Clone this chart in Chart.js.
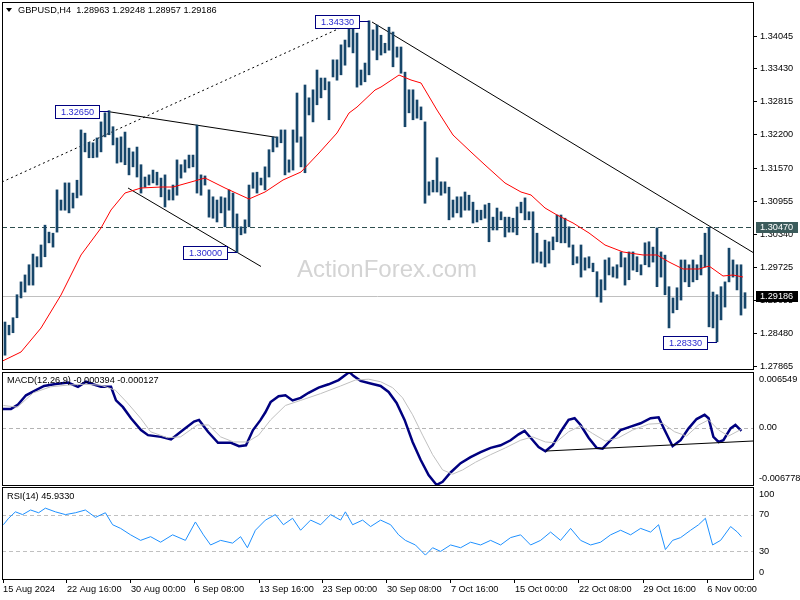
<!DOCTYPE html>
<html><head><meta charset="utf-8">
<script src="https://cdn.jsdelivr.net/npm/chart.js@4.4.1/dist/chart.umd.min.js"></script>
<style>
html,body{margin:0;padding:0;background:#fff;width:800px;height:600px;overflow:hidden}
.p{position:absolute;left:0;width:800px}
</style></head><body>
<div class="p" style="top:0;height:371px"><canvas id="cMain"></canvas></div>
<div class="p" style="top:370px;height:117px"><canvas id="cMacd"></canvas></div>
<div class="p" style="top:486px;height:114px"><canvas id="cRsi"></canvas></div>
<script>
// ---------------- DATA ----------------
const titleText = "GBPUSD,H4  1.28963 1.29248 1.28957 1.29186";
const macdTitle = "MACD(12,26,9) -0.000394 -0.000127";
const rsiTitle = "RSI(14) 45.9330";
const watermark = "ActionForex.com";

// H4 bars (pairs of bars merged into one range), index = bar slot
const barHigh = [1.2870,1.2864,1.2878,1.2921,1.2945,1.2958,1.2977,1.2997,1.2992,1.3014,
1.3051,1.3038,1.3036,1.3117,1.3098,1.3130,1.3130,1.3111,1.3135,1.3229,
1.3223,1.3206,1.3205,1.3214,1.3244,1.3261,1.3265,1.3235,1.3214,1.3216,
1.3225,1.3195,1.3188,1.3197,1.3164,1.3141,1.3145,1.3154,1.3150,1.3139,
1.3145,1.3117,1.3126,1.3173,1.3164,1.3173,1.3182,1.3182,1.3238,1.3145,
1.3143,1.3117,1.3104,1.3098,1.3104,1.3102,1.3117,1.3111,1.3072,1.3048,
1.3061,1.3126,1.3149,1.3150,1.3139,1.3160,1.3192,1.3216,1.3216,1.3229,
1.3229,1.3173,1.3229,1.3298,1.3216,1.3313,1.3289,1.3304,1.3341,1.3326,
1.3326,1.3319,1.3360,1.3360,1.3388,1.3397,1.3425,1.3429,1.3410,1.3341,
1.3354,1.3433,1.3416,1.3425,1.3406,1.3391,1.3421,1.3412,1.3384,1.3384,
1.3337,1.3304,1.3304,1.3285,1.3272,1.3244,1.3132,1.3135,1.3177,1.3132,
1.3132,1.3122,1.3098,1.3104,1.3104,1.3113,1.3107,1.3094,1.3079,1.3079,
1.3089,1.3092,1.3066,1.3083,1.3076,1.3066,1.3066,1.3064,1.3085,1.3094,
1.3102,1.3076,1.3076,1.3036,1.3001,1.3023,1.3020,1.3029,1.3070,1.3070,
1.3064,1.3048,1.3014,1.2992,1.3014,1.2990,1.2992,1.2980,1.2964,1.2949,
1.2986,1.2990,1.2973,1.2977,1.3001,1.2990,1.3001,1.3001,1.2992,1.2977,
1.3018,1.3020,1.3010,1.3046,1.3001,1.2995,1.2936,1.2915,1.2934,1.2986,
1.2986,1.2977,1.2986,1.2977,1.2995,1.3036,1.3047,1.2926,1.2921,1.2936,
1.2945,1.3008,1.2986,1.2977,1.2977,1.29248];
const barLow = [1.2808,1.2846,1.2850,1.2878,1.2915,1.2926,1.2939,1.2939,1.2973,1.2973,
1.2992,1.3018,1.3010,1.3038,1.3079,1.3079,1.3074,1.3083,1.3102,1.3107,
1.3188,1.3177,1.3177,1.3178,1.3188,1.3216,1.3220,1.3201,1.3167,1.3169,
1.3164,1.3145,1.3160,1.3141,1.3111,1.3122,1.3126,1.3130,1.3126,1.3104,
1.3085,1.3098,1.3098,1.3107,1.3139,1.3150,1.3158,1.3160,1.3111,1.3107,
1.3126,1.3066,1.3064,1.3057,1.3074,1.3048,1.3079,1.3046,1.3000,1.3033,
1.3036,1.3048,1.3120,1.3111,1.3126,1.3117,1.3141,1.3188,1.3197,1.3205,
1.3145,1.3150,1.3154,1.3206,1.3160,1.3149,1.3257,1.3244,1.3276,1.3289,
1.3304,1.3248,1.3328,1.3322,1.3332,1.3350,1.3384,1.3373,1.3309,1.3313,
1.3319,1.3332,1.3378,1.3360,1.3369,1.3373,1.3378,1.3347,1.3365,1.3335,
1.3235,1.3261,1.3248,1.3251,1.3248,1.3092,1.3107,1.3113,1.3113,1.3107,
1.3111,1.3061,1.3066,1.3074,1.3066,1.3079,1.3079,1.3055,1.3057,1.3061,
1.3064,1.3020,1.3042,1.3042,1.3061,1.3029,1.3038,1.3038,1.3033,1.3074,
1.3061,1.3061,1.2980,1.2982,1.2980,1.2973,1.2980,1.3005,1.3020,1.3018,
1.3018,1.3010,1.2977,1.2980,1.2954,1.2967,1.2971,1.2964,1.2917,1.2907,
1.2930,1.2958,1.2954,1.2952,1.2973,1.2939,1.2949,1.2967,1.2964,1.2958,
1.2977,1.2973,1.2982,1.2936,1.2954,1.2921,1.2859,1.2887,1.2893,1.2911,
1.2945,1.2936,1.2945,1.2949,1.2958,1.2973,1.2861,1.2859,1.2833,1.2874,
1.2898,1.2945,1.2954,1.2930,1.2883,1.28957];

// red moving average
const maSlot = [-0.6,4,9,14,19,24,26.5,30,34,39,42,46.5,50,55,61,65,69.5,74,78.5,83,86,88,92.5,94,98.5,101.5,104,108,112,116.5,120,125,129,131.5,135,138,142,146,150,154.5,159.5,163,166,169.5,173.5,176,179.5,182,184.5];
const maValue = [1.27972,1.28140,1.28588,1.29205,1.29953,1.30457,1.30794,1.31111,1.31205,1.31223,1.31223,1.31317,1.31392,1.31205,1.30999,1.31130,1.31354,1.31504,1.31859,1.32233,1.32606,1.32718,1.33036,1.33092,1.33316,1.33223,1.33167,1.32662,1.32195,1.31877,1.31635,1.31298,1.31130,1.31074,1.30831,1.30700,1.30551,1.30364,1.30139,1.30009,1.29953,1.29953,1.29822,1.29691,1.29691,1.29747,1.29560,1.29579,1.29541];

// trendlines (slot, price)
const riseDotted = [[-0.75,1.31317],[86,1.34270]];
const fallLine = [[91.75,1.34307],[187.0,1.30000]];
const triUpper = [[26,1.32630],[68,1.32150]];
const triLower = [[30.75,1.31205],[64,1.29738]];
const resistanceLevel = 1.30470;
const lastPrice = 1.29186;
const markSlot = [26,91,58,178];
const markPrice = [1.32650,1.34330,1.30000,1.28330];
const priceTicks = [1.34045,1.33430,1.32815,1.32200,1.31570,1.30955,1.30340,1.29725,1.29095,1.28480,1.27865];
const dateTickSlot = [-0.475,15.475,31.475,47.375,63.575,79.375,95.475,111.475,127.475,143.475,159.575,175.575];
const dateTickLabel = ["15 Aug 2024","22 Aug 16:00","30 Aug 00:00","6 Sep 08:00","13 Sep 16:00","23 Sep 00:00","30 Sep 08:00","7 Oct 16:00","15 Oct 00:00","22 Oct 08:00","29 Oct 16:00","6 Nov 00:00"];

// MACD
const macdMax = 0.006549, macdMin = -0.006778;
const macdSlot = [-0.6,1.5,3.25,5.25,7.25,9.75,12.25,15.75,18.25,20.25,22,24,26.5,27.75,29.5,31.5,34,35.75,39,41.5,44.5,47.25,48.5,50.75,53.25,56.5,58.5,60.25,62,
63.9,65.1,66.4,68.4,70.1,71.9,73.9,75.9,78.4,80.9,83.4,85.1,86.1,87.1,88.9,91.4,93.9,95.9,97.9,99.9,
101.9,103.9,105.9,107.9,109.4,111.4,113.9,116.4,118.9,121.4,123.9,126.4,128.4,129.9,131.4,133.4,135.1,136.9,138.9,140.9,
142.4,143.9,145.9,147.9,149.4,151.4,153.9,156.4,158.9,161.4,163.4,164.9,166.9,168.9,170.9,172.9,174.9,175.9,177.1,178.4,
179.6,181.4,182.6,184.1];
const macdMain = [0.0022,0.0022,0.0027,0.0038,0.0043,0.0049,0.0051,0.0053,0.0048,0.0054,0.0051,0.0048,0.0048,0.0032,0.0024,0.0011,-0.0003,-0.0009,-0.0011,-0.0014,-0.0003,0.0007,0.0009,-0.0005,-0.0018,-0.0018,-0.0022,-0.0021,-0.0003,
0.0009,0.0018,0.0030,0.0037,0.0038,0.0032,0.0035,0.0041,0.0047,0.0051,0.0056,0.0062,0.00654,0.0061,0.0055,0.0052,0.0049,0.0042,0.0029,0.0009,
-0.0017,-0.0038,-0.0056,-0.00677,-0.0064,-0.0053,-0.0042,-0.0035,-0.0029,-0.0024,-0.0021,-0.0015,-0.0008,-0.0004,-0.0012,-0.0023,-0.0028,-0.0021,-0.0005,0.0009,
0.0011,0.0003,-0.0012,-0.0024,-0.0025,-0.0015,-0.0003,0.0001,0.0005,0.0011,0.0012,-0.0003,-0.0022,-0.0015,-0.0001,0.0010,0.0015,0.0011,-0.0011,-0.0017,
-0.0015,-0.0001,0.0003,-0.0004];
const sigSlot = [-0.4,3.1,7.1,11.4,15.6,19.6,23.9,27.6,30.6,33.9,36.4,40.6,43.9,48.1,50.9,53.9,57.1,60.6,63.4,66.4,70.1,73.9,78.9,83.9,87.6,90.9,93.9,96.9,99.4,101.9,104.4,106.9,109.4,111.9,114.4,117.6,121.4,125.1,128.9,131.9,135.1,137.6,140.9,143.9,146.9,150.1,153.4,156.9,160.9,164.4,167.4,170.4,173.4,175.9,178.4,180.9,184.1];
const macdSignal = [0.0026,0.0024,0.0041,0.0048,0.0050,0.0051,0.0050,0.0044,0.0029,0.0011,-0.0005,-0.0012,-0.0011,0.0003,0.0003,-0.0011,-0.0017,-0.0017,-0.0009,0.0009,0.0026,0.0032,0.0040,0.0049,0.0056,0.0057,0.0054,0.0047,0.0035,0.0015,-0.0009,-0.0032,-0.0050,-0.0055,-0.0050,-0.0041,-0.0032,-0.0024,-0.0015,-0.0011,-0.0017,-0.0018,-0.0005,0.0002,-0.0007,-0.0016,-0.0012,-0.0003,0.0004,0.0005,-0.0005,-0.0010,0.0003,0.0009,-0.0003,-0.0010,-0.0002];
const macdTrend = [[135.25,-0.00277],[187.0,-0.00159]];

// RSI
const rsiSlot = [-0.4,0.9,2.6,4.4,6.4,8.4,10.1,12.6,15.1,17.6,20.1,22.6,25.1,26.9,28.9,31.4,33.9,36.4,38.9,41.9,45.1,47.6,49.6,51.4,53.9,56.9,58.9,60.6,62.6,65.1,67.6,69.6,71.9,73.9,76.4,78.9,81.4,83.9,85.1,86.9,89.4,91.4,93.9,96.4,98.4,100.1,102.6,105.1,106.9,108.9,111.4,113.9,116.4,118.9,121.4,123.9,126.4,128.9,131.4,133.9,136.4,138.9,141.4,143.9,146.4,148.9,151.4,153.9,156.4,158.9,161.4,163.4,165.1,166.9,168.9,171.4,173.4,175.1,176.9,178.9,181.4,183.1,184.1];
const rsiValue = [59,66,73,70,75,72,77,73,70,72,75,67,72,59,55,48,42,46,40,48,42,62,48,37,42,39,46,34,53,64,70,59,66,53,64,59,70,64,73,59,64,57,64,59,48,42,37,26,34,30,37,34,40,37,42,37,45,48,37,42,51,42,55,42,37,40,48,53,48,55,51,59,32,42,45,53,59,66,37,42,57,51,46];
const rsiLevels = [70,30];

// ---------------- DRAWING ----------------
const FONT = "Liberation Sans, Arial, sans-serif";
const XMIN = -0.75, XMAX = 187.0;
const pts = (xs, ys) => xs.map((x, i) => ({x: x, y: ys[i]}));
const seg = arr => arr.map(p => ({x: p[0], y: p[1]}));
const noPad = s => { s.paddingTop = 0; s.paddingBottom = 0; s.paddingLeft = 0; s.paddingRight = 0; };

const framePlugin = {
  id: 'frame',
  afterDraw(chart) {
    const {ctx, chartArea: a} = chart;
    ctx.save();
    ctx.strokeStyle = '#000'; ctx.lineWidth = 1;
    ctx.strokeRect(a.left + 0.5, a.top + 0.5, a.right - a.left, a.bottom - a.top);
    ctx.restore();
  }
};
const levelPlugin = {
  id: 'levels',
  beforeDatasetsDraw(chart, args, opts) {
    const {ctx, chartArea: a, scales: {y}} = chart;
    ctx.save();
    (opts.lines || []).forEach(l => {
      const py = Math.round(y.getPixelForValue(l.value)) + 0.5;
      ctx.strokeStyle = l.color; ctx.lineWidth = 1; ctx.setLineDash(l.dash || []);
      ctx.beginPath(); ctx.moveTo(a.left, py); ctx.lineTo(a.right, py); ctx.stroke();
    });
    if (opts.watermark) {
      ctx.setLineDash([]);
      ctx.fillStyle = '#d4d4d4'; ctx.font = '24px ' + FONT;
      ctx.textAlign = 'center'; ctx.textBaseline = 'middle';
      ctx.fillText(opts.watermark, 387, 270);
    }
    ctx.restore();
  }
};
const textPlugin = {
  id: 'texts',
  afterDraw(chart, args, opts) {
    const {ctx, scales: {x, y}} = chart;
    ctx.save();
    ctx.font = '9.2px ' + FONT; ctx.textBaseline = 'middle';
    if (opts.title) {
      ctx.fillStyle = '#000'; ctx.textAlign = 'left';
      if (opts.triangle) {
        ctx.beginPath(); ctx.moveTo(6, 8); ctx.lineTo(12, 8); ctx.lineTo(9, 12); ctx.closePath(); ctx.fill();
      }
      ctx.fillText(opts.title, opts.titleX, opts.titleY);
    }
    (opts.marks || []).forEach(m => {
      const bx = Math.round(x.getPixelForValue(m.slot));
      const py = Math.round(y.getPixelForValue(m.price));
      const w = 44, h = 13, right = bx - 10, left = right - w;
      ctx.fillStyle = '#fff'; ctx.fillRect(left, py - 6, w, h);
      ctx.strokeStyle = '#000080'; ctx.lineWidth = 1;
      ctx.strokeRect(left + 0.5, py - 6 + 0.5, w, h);
      ctx.beginPath(); ctx.moveTo(right + 0.5, py + 0.5); ctx.lineTo(bx, py + 0.5); ctx.stroke();
      ctx.fillStyle = '#2a2ad0'; ctx.textAlign = 'center';
      ctx.fillText(m.price.toFixed(5), left + w / 2 + 0.5, py + 1);
    });
    (opts.tags || []).forEach(t => {
      const py = Math.round(y.getPixelForValue(t.value));
      ctx.fillStyle = t.bg; ctx.fillRect(756, py - 5, 42, 11);
      ctx.fillStyle = '#fff'; ctx.textAlign = 'left';
      ctx.fillText(t.value.toFixed(5), 760, py + 0.5);
    });
    (opts.axisLabels || []).forEach(l => {
      const py = y.getPixelForValue(l.value) + l.off;
      ctx.fillStyle = '#000'; ctx.textAlign = 'left';
      ctx.fillText(l.text, 759, py);
    });
    ctx.restore();
  }
};

const xHidden = {type: 'linear', min: XMIN, max: XMAX, offset: false, display: false};
const yRight = (min, max) => ({
  type: 'linear', position: 'right', min: min, max: max, beginAtZero: false,
  afterFit(s) { s.width = 47; noPad(s); },
  border: {display: true, color: '#000'},
  grid: {display: false},
  ticks: {display: false}
});

const baseOpts = {
  responsive: true, maintainAspectRatio: false, animation: false,
  events: [],
  plugins: {legend: {display: false}, tooltip: {enabled: false}}
};

// Main chart
new Chart(document.getElementById('cMain'), {
  type: 'bar',
  data: {datasets: [
    {type: 'line', data: seg(riseDotted), borderColor: '#000', borderWidth: 1, borderDash: [2, 3], pointRadius: 0, order: 5},
    {type: 'line', data: seg(fallLine), borderColor: '#000', borderWidth: 1, pointRadius: 0, order: 5},
    {type: 'line', data: seg(triUpper), borderColor: '#000', borderWidth: 1, pointRadius: 0, order: 5},
    {type: 'line', data: seg(triLower), borderColor: '#000', borderWidth: 1, pointRadius: 0, order: 5},
    {type: 'bar', data: barHigh.map((h, i) => ({x: i, y: [barLow[i], h]})), backgroundColor: '#17466a', barThickness: 2, order: 3},
    {type: 'line', data: pts(maSlot, maValue), borderColor: '#ff0000', borderWidth: 1, pointRadius: 0, order: 1}
  ]},
  options: Object.assign({}, baseOpts, {
    layout: {padding: {left: 2, top: 2, bottom: 2, right: 0}},
    scales: {
      x: xHidden,
      y: {
        type: 'linear', position: 'right', min: 1.27822, max: 1.34681, beginAtZero: false,
        afterFit(s) { s.width = 47; noPad(s); },
        afterBuildTicks(s) { s.ticks = priceTicks.map(v => ({value: v})); },
        border: {display: true, color: '#000'},
        grid: {drawOnChartArea: false, drawTicks: true, tickLength: 4, color: '#000'},
        ticks: {padding: 3, color: '#000', font: {family: FONT, size: 9.2}, callback: v => v.toFixed(5)}
      }
    },
    plugins: Object.assign({}, baseOpts.plugins, {
      levels: {lines: [{value: resistanceLevel, color: '#2f4f4f', dash: [5, 3]}, {value: lastPrice, color: '#c0c0c0'}], watermark: watermark},
      texts: {title: titleText, triangle: true, titleX: 18, titleY: 10,
        marks: markSlot.map((s, i) => ({slot: s, price: markPrice[i]})),
        tags: [{value: resistanceLevel, bg: '#3b5b5b'}, {value: lastPrice, bg: '#000'}]}
    })
  }),
  plugins: [levelPlugin, framePlugin, textPlugin]
});

// MACD chart
new Chart(document.getElementById('cMacd'), {
  type: 'line',
  data: {datasets: [
    {data: seg(macdTrend), borderColor: '#000', borderWidth: 1, pointRadius: 0},
    {data: pts(sigSlot, macdSignal), borderColor: '#c0c0c0', borderWidth: 1, pointRadius: 0},
    {data: pts(macdSlot, macdMain), borderColor: '#000080', borderWidth: 2.5, pointRadius: 0}
  ]},
  options: Object.assign({}, baseOpts, {
    layout: {padding: {left: 2, top: 2, bottom: 2, right: 0}},
    scales: {x: xHidden, y: yRight(macdMin, macdMax)},
    plugins: Object.assign({}, baseOpts.plugins, {
      levels: {lines: [{value: 0, color: '#b4b4b4', dash: [4, 3]}]},
      texts: {title: macdTitle, titleX: 7, titleY: 10,
        axisLabels: [{value: macdMax, text: macdMax.toFixed(6), off: 7}, {value: 0, text: '0.00', off: 0}, {value: macdMin, text: macdMin.toFixed(6), off: -7}]}
    })
  }),
  plugins: [levelPlugin, framePlugin, textPlugin]
});

// RSI chart
new Chart(document.getElementById('cRsi'), {
  type: 'line',
  data: {datasets: [
    {data: pts(rsiSlot, rsiValue), borderColor: '#1e90ff', borderWidth: 1, pointRadius: 0}
  ]},
  options: Object.assign({}, baseOpts, {
    layout: {padding: {left: 2, top: 1, bottom: 0, right: 0}},
    scales: {
      x: {type: 'linear', min: XMIN, max: XMAX, offset: false, position: 'bottom',
        afterFit(s) { s.height = 21; noPad(s); },
        afterBuildTicks(s) { s.ticks = dateTickSlot.map(v => ({value: v})); },
        border: {display: true, color: '#000'},
        grid: {drawOnChartArea: false, drawTicks: true, tickLength: 4, color: '#000'},
        ticks: {align: 'start', autoSkip: false, maxRotation: 0, padding: 1, color: '#000', font: {family: FONT, size: 9.2},
          callback: (v, i) => dateTickLabel[i]}
      },
      y: yRight(0, 100)
    },
    plugins: Object.assign({}, baseOpts.plugins, {
      levels: {lines: rsiLevels.map(v => ({value: v, color: '#c0c0c0', dash: [4, 3]}))},
      texts: {title: rsiTitle, titleX: 7, titleY: 10,
        axisLabels: [{value: 100, text: '100', off: 7}, {value: 70, text: '70', off: 0}, {value: 30, text: '30', off: 0}, {value: 0, text: '0', off: -7}]}
    })
  }),
  plugins: [levelPlugin, framePlugin, textPlugin]
});
</script>
</body></html>
